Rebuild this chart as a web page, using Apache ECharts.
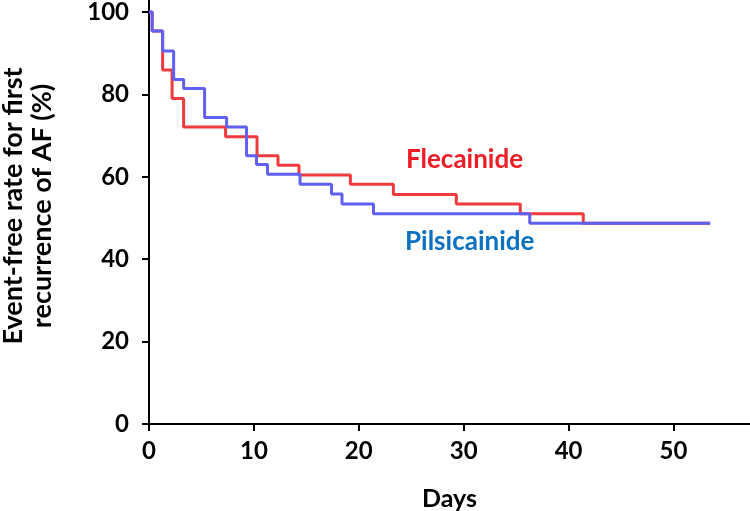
<!DOCTYPE html>
<html><head><meta charset="utf-8">
<script src="https://cdn.jsdelivr.net/npm/echarts@6/dist/echarts.min.js"></script>
<style>html,body{margin:0;padding:0;background:#fff}#c{width:750px;height:511px}</style>
</head><body><div id="c"></div>
<script>
const xTicks = [0, 10, 20, 30, 40, 50];
const yTicks = [0, 20, 40, 60, 80, 100];
const flecDays = [0, 0.3, 1.3, 2.2, 3.3, 7.3, 10.3, 12.3, 14.3, 19.2, 23.3, 29.3, 35.4, 41.4, 53.5];
const flecSurv = [100, 95.4, 85.9, 79.0, 72.1, 69.7, 65.1, 62.8, 60.4, 58.2, 55.7, 53.4, 51.0, 48.7, 48.7];
const pilsDays = [0, 0.3, 1.3, 2.35, 3.3, 5.3, 7.4, 9.3, 10.25, 11.3, 14.4, 17.4, 18.4, 21.4, 36.3, 53.5];
const pilsSurv = [100, 95.4, 90.5, 83.6, 81.4, 74.4, 72.1, 65.1, 63.0, 60.6, 58.2, 55.8, 53.4, 51.0, 48.7, 48.7];
const seriesNames = ['Flecainide', 'Pilsicainide'];

const font = 'Lato, "Open Sans", sans-serif';
const chart = echarts.init(document.getElementById('c'), null, {renderer: 'canvas'});
chart.setOption({
  animation: false,
  grid: {left: 149, right: 0, top: 0, bottom: 87, containLabel: false, outerBoundsMode: 'none'},
  xAxis: {
    type: 'value', min: 0, max: 57.3,
    axisLine: {show: true, lineStyle: {color: '#000', width: 2}},
    axisTick: {show: true, length: 7, lineStyle: {color: '#000', width: 2}, customValues: xTicks},
    axisLabel: {customValues: xTicks, color: '#000', fontSize: 24, fontWeight: 'bold', fontFamily: font, margin: 15},
    splitLine: {show: false},
    name: 'Days', nameLocation: 'middle', nameGap: 62,
    nameTextStyle: {color: '#000', fontSize: 25, fontWeight: 'bold', fontFamily: font}
  },
  yAxis: {
    type: 'value', min: 0, max: 102.9,
    axisLine: {show: true, lineStyle: {color: '#000', width: 2}},
    axisTick: {show: true, length: 7, lineStyle: {color: '#000', width: 2}, customValues: yTicks},
    axisLabel: {customValues: yTicks, color: '#000', fontSize: 24, fontWeight: 'bold', fontFamily: font, margin: 20},
    splitLine: {show: false}
  },
  graphic: [
    {type: 'text', x: 28, y: 206, rotation: Math.PI/2,
     style: {text: 'Event-free rate for first\nrecurrence of AF (%)', fill: '#000',
       font: 'bold 27px ' + font, align: 'center', verticalAlign: 'middle', lineHeight: 29}},
    {type: 'text', x: 406, y: 160, style: {text: seriesNames[0], fill: '#ee1c25', font: 'bold 26px ' + font, verticalAlign: 'middle'}},
    {type: 'text', x: 405, y: 242, style: {text: seriesNames[1], fill: '#0a70c0', font: 'bold 26px ' + font, verticalAlign: 'middle'}}
  ],
  series: [
    {name: seriesNames[0], type: 'line', step: 'end', showSymbol: false,
     data: flecDays.map((d, i) => [d, flecSurv[i]]),
     lineStyle: {color: '#f03a3e', width: 3}},
    {name: seriesNames[1], type: 'line', step: 'end', showSymbol: false,
     data: pilsDays.map((d, i) => [d, pilsSurv[i]]),
     lineStyle: {color: '#6060f4', width: 3}}
  ]
});
</script></body></html>
